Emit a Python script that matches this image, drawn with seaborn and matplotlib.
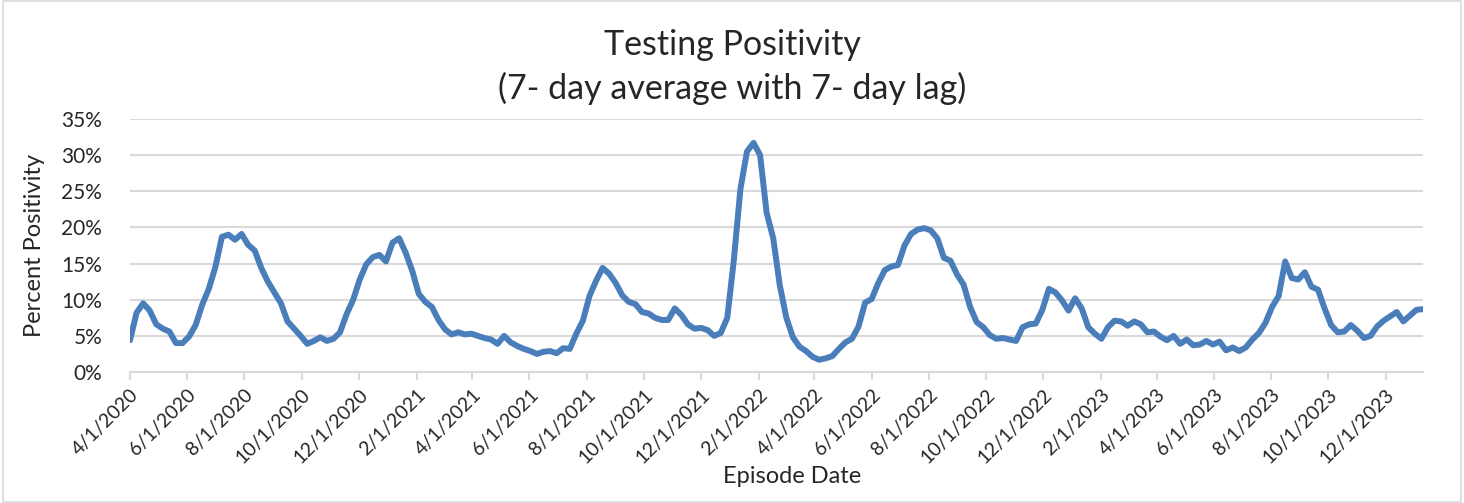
import pandas as pd
import numpy as np
import matplotlib
matplotlib.use("Agg")
import matplotlib.pyplot as plt
import seaborn as sns

# weekly readings, first point 4/1/2020
start_date = "2020-04-01"
positivity = [
    4.4, 8.2, 9.5, 8.5, 6.6, 6.0, 5.6, 4.0, 4.0, 4.9,
    6.5, 9.3, 11.5, 14.5, 18.7, 19.0, 18.3, 19.1, 17.6, 16.8,
    14.4, 12.5, 11.0, 9.5, 7.0, 6.0, 5.0, 3.9, 4.3, 4.8,
    4.3, 4.6, 5.5, 8.0, 10.0, 12.8, 14.9, 15.9, 16.2, 15.3,
    17.9, 18.5, 16.5, 14.0, 10.8, 9.7, 9.0, 7.2, 5.9, 5.2,
    5.5, 5.2, 5.3, 5.0, 4.7, 4.5, 3.9, 5.0, 4.1, 3.6,
    3.2, 2.9, 2.5, 2.8, 2.9, 2.6, 3.3, 3.2, 5.3, 7.1,
    10.5, 12.6, 14.4, 13.6, 12.3, 10.6, 9.7, 9.4, 8.3, 8.1,
    7.5, 7.2, 7.2, 8.8, 7.9, 6.6, 6.0, 6.1, 5.8, 5.0,
    5.4, 7.5, 15.5, 25.3, 30.5, 31.7, 30.0, 22.0, 18.5, 12.0,
    7.5, 4.8, 3.5, 2.9, 2.1, 1.7, 1.9, 2.2, 3.2, 4.1,
    4.6, 6.3, 9.6, 10.1, 12.3, 14.1, 14.6, 14.8, 17.5, 19.1,
    19.7, 19.9, 19.6, 18.5, 15.8, 15.4, 13.5, 12.1, 9.0, 6.9,
    6.2, 5.1, 4.6, 4.7, 4.5, 4.3, 6.2, 6.6, 6.7, 8.6,
    11.5, 11.0, 9.9, 8.5, 10.2, 8.8, 6.2, 5.3, 4.6, 6.2,
    7.1, 7.0, 6.4, 7.0, 6.6, 5.5, 5.6, 4.9, 4.4, 5.0,
    3.9, 4.5, 3.7, 3.8, 4.3, 3.8, 4.2, 3.0, 3.4, 2.9,
    3.4, 4.5, 5.4, 6.8, 9.0, 10.5, 15.3, 13.0, 12.8, 13.8,
    11.8, 11.4, 8.8, 6.5, 5.5, 5.6, 6.5, 5.7, 4.7, 5.0,
    6.3, 7.1, 7.7, 8.3, 7.0, 7.8, 8.6, 8.7,
]
dates = pd.date_range(start_date, periods=len(positivity), freq="7D")
df = pd.DataFrame({"Episode Date": dates, "Positivity": positivity})

tick_dates = pd.date_range("2020-04-01", "2023-12-01", freq="2MS")
y_ticks = [0, 5, 10, 15, 20, 25, 30, 35]

sns.set_style("white")
plt.rcParams["font.family"] = ["Lato", "DejaVu Sans"]

fig = plt.figure(figsize=(14.64, 5.03), dpi=100)
ax = fig.add_axes([0.0888, 0.2604, 0.8832, 0.503])

sns.lineplot(data=df, x="Episode Date", y="Positivity", color="#4a7ebb",
             linewidth=4.3, ax=ax)

ax.set_xlim(dates[0], dates[-1])
ax.set_ylim(0, 35)
ax.set_yticks(y_ticks)
ax.set_yticklabels([f"{v}%" for v in y_ticks], fontsize=15)
ax.set_xticks(tick_dates)
ax.set_xticklabels([f"{d.month}/{d.day}/{d.year}" for d in tick_dates],
                   rotation=45, ha="right", rotation_mode="anchor", fontsize=14)
ax.yaxis.grid(True, color="#d9d9d9", linewidth=1.5)
ax.set_axisbelow(True)
for s in ["left", "right", "top"]:
    ax.spines[s].set_visible(False)
ax.spines["bottom"].set_color("#d9d9d9")
ax.spines["bottom"].set_linewidth(1.5)
ax.tick_params(axis="x", length=6, width=1.5, color="#d9d9d9", pad=4, bottom=True)
ax.tick_params(axis="y", length=0, pad=20)

ax.set_ylabel("Percent Positivity", fontsize=17)
ax.set_xlabel("Episode Date", fontsize=17)
ax.yaxis.set_label_coords(-0.066, 0.5)
ax.xaxis.set_label_coords(0.512, -0.37)

fig.text(0.5, 0.91, "Testing Positivity", ha="center", va="center", fontsize=24.5)
fig.text(0.5, 0.825, "(7- day average with 7- day lag)", ha="center", va="center", fontsize=24.5)

fig.patches.append(plt.Rectangle((0.002, 0.002), 0.996, 0.996, transform=fig.transFigure,
                                 fill=False, edgecolor="#d9d9d9", linewidth=1.2))

fig.savefig("out.png", dpi=100)
